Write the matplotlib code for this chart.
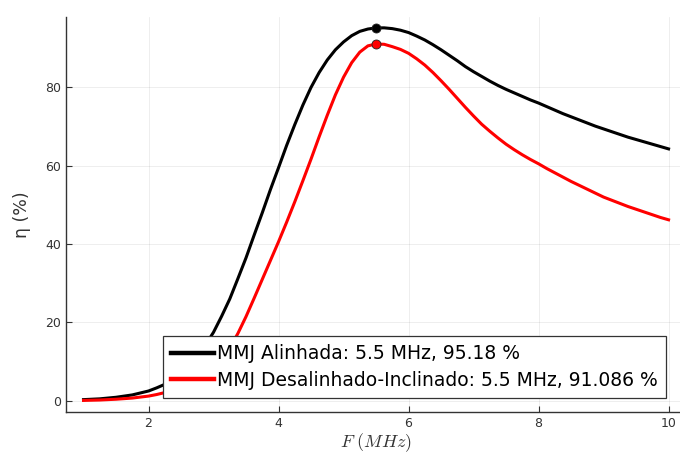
import numpy as np
import matplotlib.pyplot as plt

plt.rcParams["mathtext.fontset"] = "cm"

# frequency (MHz) and efficiency (%)
freq = [1.0, 1.125, 1.25, 1.375, 1.5, 1.625, 1.75, 1.875, 2.0, 2.125, 2.25, 2.375,
        2.5, 2.625, 2.75, 2.875, 3.0, 3.125, 3.25, 3.375, 3.5, 3.625, 3.75, 3.875,
        4.0, 4.125, 4.25, 4.375, 4.5, 4.625, 4.75, 4.875, 5.0, 5.125, 5.25, 5.375,
        5.5, 5.625, 5.75, 5.875, 6.0, 6.125, 6.25, 6.375, 6.5, 6.625, 6.75, 6.875,
        7.0, 7.125, 7.25, 7.375, 7.5, 7.625, 7.75, 7.875, 8.0, 8.125, 8.25, 8.375,
        8.5, 8.625, 8.75, 8.875, 9.0, 9.125, 9.25, 9.375, 9.5, 9.625, 9.75, 9.875, 10.0]
eta_alinhada = [0.3, 0.4, 0.5, 0.7, 0.9, 1.2, 1.5, 2.0, 2.5, 3.3, 4.2, 5.5,
                7.0, 9.0, 11.2, 14.2, 17.5, 21.6, 26.0, 31.2, 36.5, 42.3, 48.0, 53.9,
                59.5, 65.2, 70.5, 75.5, 80.0, 83.8, 87.0, 89.6, 91.6, 93.2, 94.3, 94.9,
                95.18, 95.2, 95.0, 94.6, 94.0, 93.1, 92.1, 90.9, 89.6, 88.2, 86.8, 85.3,
                84.0, 82.8, 81.6, 80.5, 79.5, 78.6, 77.7, 76.8, 76.0, 75.1, 74.2, 73.3,
                72.5, 71.7, 70.9, 70.1, 69.4, 68.7, 68.0, 67.3, 66.7, 66.1, 65.5, 64.9, 64.3]
eta_desalinhado = [0.1, 0.15, 0.2, 0.3, 0.4, 0.55, 0.7, 0.95, 1.2, 1.6, 2.1, 2.7,
                   3.5, 4.4, 5.5, 6.9, 8.5, 10.7, 13.5, 17.2, 21.5, 26.2, 31.0, 35.8,
                   40.6, 45.6, 50.8, 56.2, 61.7, 67.4, 72.9, 78.1, 82.6, 86.3, 89.0, 90.6,
                   91.086, 91.0, 90.4, 89.7, 88.7, 87.3, 85.7, 83.8, 81.7, 79.5, 77.2, 74.9,
                   72.7, 70.6, 68.8, 67.1, 65.5, 64.1, 62.8, 61.6, 60.5, 59.3, 58.2, 57.1,
                   56.0, 55.0, 54.0, 53.0, 52.0, 51.2, 50.4, 49.6, 48.9, 48.2, 47.5, 46.8, 46.2]

peak_f = [5.5, 5.5]
peak_eta = [95.18, 91.086]
labels = ["MMJ Alinhada: 5.5 MHz, 95.18 %",
          "MMJ Desalinhado-Inclinado: 5.5 MHz, 91.086 %"]
colors = ["black", "red"]

fig = plt.figure(figsize=(6.8, 4.53), dpi=100)
ax = fig.add_axes([0.097, 0.0905, 0.912, 0.8726])

for y, lab, c in zip([eta_alinhada, eta_desalinhado], labels, colors):
    ax.plot(freq, y, color=c, linewidth=2.2, label=lab, zorder=3)
for f, e, c in zip(peak_f, peak_eta, colors):
    ax.plot(f, e, "o", color=c, markersize=6.5, markeredgecolor="#222222",
            markeredgewidth=0.6, zorder=4)

ax.set_xlim(0.73, 10.27)
ax.set_ylim(-2.86, 98.04)
ax.set_xticks([2, 4, 6, 8, 10])
ax.set_yticks([0, 20, 40, 60, 80])
ax.grid(True, color="black", alpha=0.08, linewidth=0.6)
ax.set_axisbelow(True)

for s in ["top", "right"]:
    ax.spines[s].set_visible(False)
for s in ["left", "bottom"]:
    ax.spines[s].set_color("#333333")
    ax.spines[s].set_linewidth(1.0)
ax.tick_params(direction="in", length=4, width=0.8, labelsize=9,
               colors="#333333", labelcolor="#333333")

ax.set_xlabel(r"$F\ (MHz)$", fontsize=13, color="#333333", labelpad=1)
ax.set_ylabel("η (%)", fontsize=12.5, color="#333333", labelpad=10)

leg = ax.legend(loc="lower right", bbox_to_anchor=(0.968, 0.035), borderaxespad=0,
                fontsize=13.5, fancybox=False, framealpha=1, edgecolor="#333333",
                handlelength=2.3, handletextpad=0.15, borderpad=0.45, labelspacing=0.4)
leg.get_frame().set_linewidth(0.9)
for line in leg.get_lines():
    line.set_linewidth(3.2)

fig.savefig("out.png", dpi=100)
